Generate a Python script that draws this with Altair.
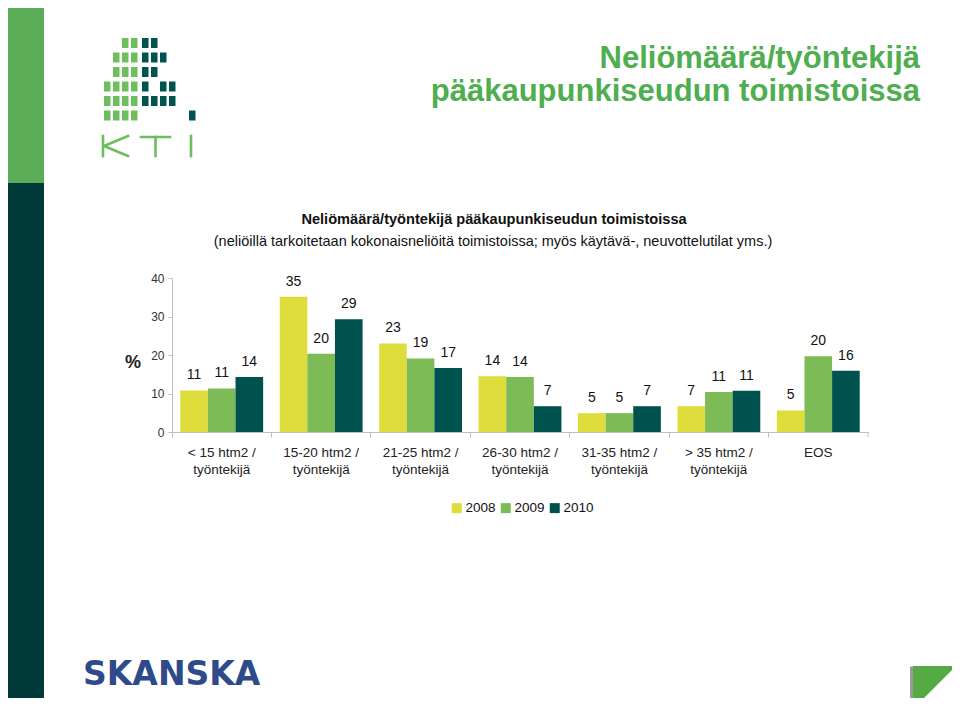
import altair as alt
import pandas as pd

# ---------------- data ----------------
categories = ["< 15 htm2 /|työntekijä", "15-20 htm2 /|työntekijä", "21-25 htm2 /|työntekijä",
              "26-30 htm2 /|työntekijä", "31-35 htm2 /|työntekijä", "> 35 htm2 /|työntekijä", "EOS"]
years = ["2008", "2009", "2010"]
v2008 = [10.8, 35.1, 23.0, 14.5, 4.9, 6.7, 5.6]
v2009 = [11.3, 20.3, 19.1, 14.3, 4.9, 10.4, 19.7]
v2010 = [14.3, 29.3, 16.6, 6.7, 6.7, 10.7, 15.9]
lab2008 = [11, 35, 23, 14, 5, 7, 5]
lab2009 = [11, 20, 19, 14, 5, 11, 20]
lab2010 = [14, 29, 17, 7, 7, 11, 16]
y_ticks = [0, 10, 20, 30, 40]
year_colors = ["#dedd3c", "#7cbb55", "#00524f"]

rows = []
for yr, vals, labs in zip(years, [v2008, v2009, v2010], [lab2008, lab2009, lab2010]):
    for c, v, l in zip(categories, vals, labs):
        rows.append({"cat": c, "year": yr, "value": v, "label": str(l)})
df = pd.DataFrame(rows)

FONT = "Liberation Sans"
W, H = 696, 154
OX, OY = 172, 278  # page position of plot origin


def px(x):
    return x - OX


def py(y):
    return y - OY


# ---------------- main chart ----------------
x_axis = alt.Axis(labelExpr="split(datum.label, '|')", labelAngle=0, bandPosition=0,
                  tickSize=5, tickColor="#bfbfbf", domainColor="#bfbfbf",
                  labelFont=FONT, labelFontSize=13.5, labelColor="#222222",
                  labelLineHeight=17, labelPadding=8)
y_axis = alt.Axis(values=y_ticks, grid=False, tickSize=4,
                  tickColor="#bfbfbf", domainColor="#bfbfbf", labelFont=FONT,
                  labelFontSize=12, labelColor="#333333", labelPadding=4,
                  labelOverlap=False, labelFlush=False)
x_enc = alt.X("cat:N", sort=categories, title=None,
              scale=alt.Scale(paddingInner=0, paddingOuter=0), axis=x_axis)
xo_enc = alt.XOffset("year:N", sort=years, scale=alt.Scale(paddingOuter=0.3, paddingInner=0))
y_enc = alt.Y("value:Q", title=None, scale=alt.Scale(domain=[0, 40], nice=False), axis=y_axis)

bars = alt.Chart(df).mark_bar().encode(
    x=x_enc, xOffset=xo_enc, y=y_enc,
    color=alt.Color("year:N", sort=years, scale=alt.Scale(domain=years, range=year_colors),
                    legend=alt.Legend(title=None, orient="none", legendX=278, legendY=223,
                                      direction="horizontal", symbolType="square",
                                      symbolSize=100, symbolStrokeWidth=0,
                                      labelFont=FONT, labelFontSize=13.5, labelColor="#111111",
                                      labelOffset=2, columnPadding=3))
)
labels = alt.Chart(df).mark_text(baseline="alphabetic", dy=-11, font=FONT, fontSize=14,
                                 color="#111111").encode(
    x=x_enc, xOffset=xo_enc, y=y_enc, text="label:N"
)
main = alt.layer(bars, labels)

# ---------------- slide decorations ----------------
one = alt.Data(values=[{}])


def text(t, x, y, **kw):
    return alt.Chart(one).mark_text(text=t, x=px(x), y=py(y), **kw)


light, dark = "#6cbf5c", "#00544f"
cells = []
light_cols = {104: [3, 4, 5], 113: [1, 2, 3, 4, 5], 122: [0, 1, 2, 3, 4, 5], 131: [0, 1, 2, 3, 4, 5]}
dark_cols = {142: [0, 1, 2, 3, 4], 151: [0, 1, 2, 4], 160: [1, 3, 4], 169: [3, 4], 189: [5]}
for cols, col in [(light_cols, light), (dark_cols, dark)]:
    for cx, rs in cols.items():
        for r in rs:
            y0 = 38 + 14.5 * r
            cells.append({"x": px(cx), "x2": px(cx + 6.5), "y": py(y0), "y2": py(y0 + 10), "c": col})
blocks = [
    {"x": px(8), "x2": px(44), "y": py(8), "y2": py(183), "c": "#5bae57"},
    {"x": px(8), "x2": px(44), "y": py(183), "y2": py(700), "c": "#003b3a"},
] + cells
rects = alt.Chart(alt.Data(values=blocks)).mark_rect().encode(
    x=alt.X("x:Q", scale=None, axis=None), x2="x2:Q",
    y=alt.Y("y:Q", scale=None, axis=None), y2="y2:Q",
    color=alt.Color("c:N", scale=None, legend=None)
)

# "KTI" letters drawn as thin strokes
kti = [
    (103, 136, 103, 156), (104, 146, 128, 136), (104, 146, 128, 156),   # K
    (141, 137, 170, 137), (155.5, 137, 155.5, 156),                      # T
    (191, 136, 191, 156),                                                # I
]
kti_df = [{"x": px(a), "y": py(b), "x2": px(c), "y2": py(d)} for a, b, c, d in kti]
kti_rules = alt.Chart(alt.Data(values=kti_df)).mark_rule(color=light, strokeWidth=2.6,
                                                          strokeCap="square").encode(
    x=alt.X("x:Q", scale=None, axis=None), x2="x2:Q",
    y=alt.Y("y:Q", scale=None, axis=None), y2="y2:Q"
)

# right-end x tick
end_tick = alt.Chart(one).mark_rule(color="#bfbfbf").encode(
    x=alt.value(W), y=alt.value(H), y2=alt.value(H + 5))

tri = "M-1,-1L1,-1L-1,1Z"
tri_shadow = alt.Chart(one).mark_point(shape=tri, filled=True, opacity=1, color="#9a9a9a",
                                       size=1849, strokeWidth=0).encode(
    x=alt.value(px(931.5)), y=alt.value(py(688)))
tri_green = alt.Chart(one).mark_point(shape=tri, filled=True, opacity=1, color="#55aa44",
                                      size=1849, strokeWidth=0).encode(
    x=alt.value(px(934.5)), y=alt.value(py(687.5)))

decor = [
    rects, kti_rules, end_tick,
    text("Neliömäärä/työntekijä", 920, 59, font=FONT, fontWeight="bold", fontSize=31,
         color="#4fae50", align="right"),
    text("pääkaupunkiseudun toimistoissa", 920, 92, font=FONT, fontWeight="bold", fontSize=31,
         color="#4fae50", align="right"),
    text("Neliömäärä/työntekijä pääkaupunkiseudun toimistoissa", 494, 220, font=FONT,
         fontWeight="bold", fontSize=14.6, color="#111111", align="center"),
    text("(neliöillä tarkoitetaan kokonaisneliöitä toimistoissa; myös käytävä-, neuvottelutilat yms.)",
         493, 242, font=FONT, fontSize=14.5, color="#111111", align="center"),
    text("%", 133, 363, font=FONT, fontWeight="bold", fontSize=18, color="#222222", align="center"),
    text("SKANSKA", 83, 675, font="DejaVu Sans", fontWeight="bold", fontSize=33,
         color="#2e4a8b", align="left"),
    tri_shadow, tri_green,
]

chart = alt.layer(*decor, main).resolve_scale(
    x="independent", y="independent", color="independent"
).properties(
    width=W, height=H, background="white",
    padding={"left": 164, "top": 270, "right": 84, "bottom": 266},
    autosize=alt.AutoSizeParams(type="none"),
).configure_view(stroke=None)

chart.save("out.html", embed_options={"renderer": "svg", "actions": False})
